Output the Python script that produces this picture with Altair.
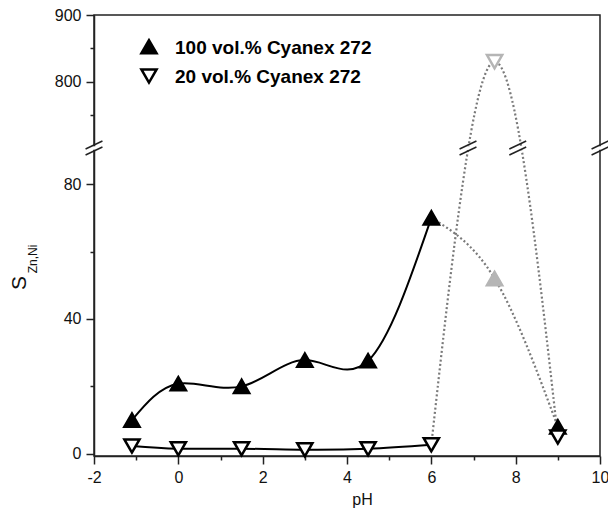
import altair as alt
import pandas as pd

# ---------------- data ----------------
series = ["100 vol.% Cyanex 272", "20 vol.% Cyanex 272"]

ph_solid = [-1.1, 0, 1.5, 3, 4.5, 6]
s100_solid = [10, 20.8, 20, 27.8, 27.6, 70]
s20_solid = [2.3, 1.5, 1.5, 1.2, 1.5, 2.7]

ph_dot = [6, 7.5, 9]
s100_dot = [70, 52, 8]
s20_dot = [2.7, 830, 5]

ph_end = [9]
s100_end = [8]
s20_end = [5]

ph_gray = [7.5]
s100_gray = [52]
s20_gray = [830]

x_major = [-2, 0, 2, 4, 6, 8, 10]
x_minor = [-1, 1, 3, 5, 7, 9]
y_major = [0, 40, 80, 800, 900]
y_minor = [20, 60, 750, 850]

x_domain = [-2, 10]
break_ph = [-2, 6.87, 8.05, 10]

# ---------------- broken-axis geometry ----------------
W, H = 506, 441
LOW_PX = 3.37   # pixels per unit, lower segment (0..~90)
UP_PX = 0.667   # pixels per unit, upper segment (~700..900)
V0 = -0.653     # lower-segment value at the bottom edge


def T(v):
    if v <= 100:
        return v
    return (H - (900 - v) * UP_PX) / LOW_PX + V0


Y_TOP = T(900)
BREAK_LO = 305 / LOW_PX + V0
BREAK_HI = 311 / LOW_PX + V0


def rows(ph, vals, name):
    return [{"ph": p, "t": T(v), "series": name} for p, v in zip(ph, vals)]


solid_df = pd.DataFrame(rows(ph_solid, s100_solid, series[0]) + rows(ph_solid, s20_solid, series[1]))
dot_df = pd.DataFrame(rows(ph_dot, s100_dot, series[0]) + rows(ph_dot, s20_dot, series[1]))
pts_df = pd.DataFrame(rows(ph_solid + ph_end, s100_solid + s100_end, series[0])
                      + rows(ph_solid + ph_end, s20_solid + s20_end, series[1]))
gray_df = pd.DataFrame(rows(ph_gray, s100_gray, series[0]) + rows(ph_gray, s20_gray, series[1]))

band_df = pd.DataFrame([{"ph": x_domain[0] - 0.15, "ph2": x_domain[1] + 0.15,
                         "t": BREAK_LO + 0.35, "t2": BREAK_HI - 0.35}])
slash_rows = []
for xc in break_ph:
    for tc in (BREAK_LO, BREAK_HI):
        slash_rows.append({"ph": xc - 0.2, "ph2": xc + 0.2, "t": tc - 1.2, "t2": tc + 1.2})
slash_df = pd.DataFrame(slash_rows)

# ---------------- axes ----------------
FONT = "Liberation Sans"
INV = (f"(datum.value < 95 ? round(datum.value) : "
       f"round(900 - ({H} - (datum.value - ({V0})) * {LOW_PX}) / {UP_PX}))")
is_minor_y = f"indexof({y_minor}, {INV}) >= 0"

y_axis = alt.Axis(
    values=sorted([T(v) for v in y_major + y_minor]),
    labelExpr=f"{is_minor_y} ? '' : '' + {INV}",
    tickSize={"condition": {"test": is_minor_y, "value": 4}, "value": 8},
    title=None, grid=False, labelPadding=5,
)
x_axis = alt.Axis(
    values=sorted(x_major + x_minor),
    labelExpr="datum.value % 2 == 0 ? '' + datum.value : ''",
    tickSize={"condition": {"test": "datum.value % 2 != 0", "value": 4}, "value": 8},
    title="pH", titleX=268, titleY=48, titleBaseline="alphabetic",
    titleFontSize=16, titleFontWeight="normal", titleFont=FONT, titleColor="#111",
    grid=False, labelPadding=5, labelFlush=False, labelOverlap=False,
)

xs = alt.Scale(domain=x_domain, nice=False, zero=False)
ys = alt.Scale(domain=[V0, Y_TOP], nice=False, zero=False)
X = alt.X("ph:Q", scale=xs, axis=x_axis)
Y = alt.Y("t:Q", scale=ys, axis=y_axis)

shape_scale = alt.Scale(domain=series, range=["triangle-up", "triangle-down"])

solid = alt.Chart(solid_df).mark_line(interpolate="natural", color="black", strokeWidth=2).encode(
    x=X, y=Y, detail="series:N")
dotted = alt.Chart(dot_df).mark_line(interpolate="natural", color="#7a7a7a", strokeWidth=2.2,
                                     strokeDash=[2, 2.4]).encode(x=X, y=Y, detail="series:N")
band = alt.Chart(band_df).mark_rect(color="white", clip=False).encode(
    x=X, x2="ph2:Q", y=Y, y2="t2:Q")
slashes = alt.Chart(slash_df).mark_rule(color="#222", strokeWidth=1.5, clip=False).encode(
    x=X, x2="ph2:Q", y=Y, y2="t2:Q")

gray_pts = alt.Chart(gray_df).mark_point(filled=True, size=230, strokeWidth=2.5, opacity=1,
                                         stroke="#b5b5b5").encode(
    x=X, y=Y,
    shape=alt.Shape("series:N", scale=shape_scale, legend=None),
    fill=alt.Fill("series:N", scale=alt.Scale(domain=series, range=["#b5b5b5", "white"]), legend=None),
)

pts = alt.Chart(pts_df).mark_point(filled=True, size=230, strokeWidth=2.5, opacity=1,
                                   stroke="black").encode(
    x=X, y=Y,
    shape=alt.Shape("series:N", scale=shape_scale, legend=None),
    fill=alt.Fill("series:N", scale=alt.Scale(domain=series, range=["black", "white"]), legend=None),
)

# ---------------- legend (drawn as marks, top-left inside the plot) ----------------
legend_fill = ["black", "white"]
legend_shape = ["triangle-up", "triangle-down"]
legend_y = [31.7, 61]
legend_layers = []
for name, shp, fil, ly in zip(series, legend_shape, legend_fill, legend_y):
    ldf = pd.DataFrame({"txt": [name]})
    legend_layers.append(alt.Chart(ldf).mark_point(
        shape=shp, filled=True, fill=fil, stroke="black", strokeWidth=2.5, size=230, opacity=1
    ).encode(x=alt.value(55), y=alt.value(ly)))
    legend_layers.append(alt.Chart(ldf).mark_text(
        align="left", baseline="middle", font=FONT, fontSize=19, fontWeight="bold", color="black"
    ).encode(text="txt:N", x=alt.value(81), y=alt.value(ly + 1)))

# ---------------- y title with subscript ----------------
title_s = alt.Chart(pd.DataFrame({"txt": ["S"]})).mark_text(
    angle=270, fontSize=21, font=FONT, color="#111", align="center", baseline="middle").encode(
    text="txt:N", x=alt.value(-74), y=alt.value(268))
title_sub = alt.Chart(pd.DataFrame({"txt": ["Zn,Ni"]})).mark_text(
    angle=270, fontSize=12, font=FONT, color="#111", align="center", baseline="middle").encode(
    text="txt:N", x=alt.value(-61), y=alt.value(244))

chart = alt.layer(solid, dotted, band, slashes, gray_pts, pts, *legend_layers, title_s, title_sub
).resolve_scale(
    shape="independent", fill="independent"
).properties(
    width=W, height=H,
    autosize=alt.AutoSizeParams(type="none"),
    padding={"left": 86, "top": 7, "right": 8, "bottom": 53},
).configure_view(
    stroke="#222", strokeWidth=1.5
).configure_axis(
    labelFont=FONT, labelFontSize=16, labelColor="#111",
    domainColor="#222", domainWidth=1.5, tickColor="#222", tickWidth=1.5,
)

chart.save("out.html", embed_options={"renderer": "svg", "actions": False})
